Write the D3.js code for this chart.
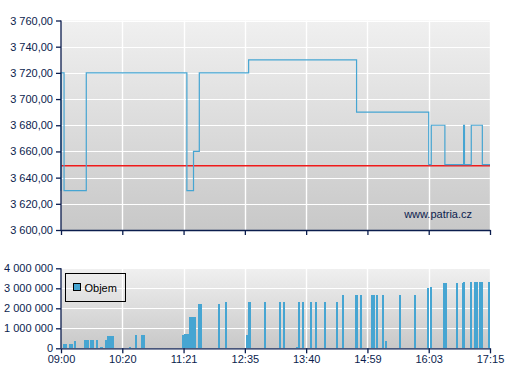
<!DOCTYPE html>
<html lang="cs">
<head>
<meta charset="UTF-8">
<title>Patria - průběh obchodování</title>
<script src="https://d3js.org/d3.v7.min.js"></script>
<style>
  body { margin: 0; background: #fff; }
  svg { display: block; font-family: "Liberation Sans", Arial, sans-serif; font-size: 11px; }
  .lbl { fill: #0b1d4e; }
</style>
</head>
<body>
<div id="chart"></div>
<script>
// x axis labels (they sit at equal spacing, so time is mapped piecewise)
const tickLabels = ["09:00", "10:20", "11:21", "12:35", "13:40", "14:59", "16:03", "17:15"];
const priceTicks = [3600, 3620, 3640, 3660, 3680, 3700, 3720, 3740, 3760];
const volumeTicks = [0, 1000000, 2000000, 3000000, 4000000];

// previous close (red line)
const prevClose = 3650;

// price steps
const priceTimes = ["09:00", "09:00", "09:04", "09:33", "11:25", "11:33", "11:40", "12:39",
  "14:45", "16:03", "16:06", "16:22", "16:44", "16:45", "16:53", "17:06", "17:15"];
const priceValues = [3630, 3720, 3630, 3720, 3630, 3660, 3720, 3730,
  3690, 3650, 3680, 3650, 3680, 3650, 3680, 3650, 3650];

// volume bars
const volTimes = ["09:04", "09:07", "09:12", "09:14", "09:18", "09:31", "09:34", "09:35", "09:39", "09:42",
  "09:47", "09:52", "09:53", "09:59", "10:01", "10:04", "10:07", "10:08", "10:28", "10:34",
  "10:40", "10:42", "11:20", "11:23", "11:25", "11:26", "11:29", "11:31", "11:34", "11:35",
  "11:40", "11:42", "12:04", "12:12", "12:37", "12:39", "12:40", "12:56", "13:12", "13:17",
  "13:30", "13:32", "13:37", "13:46", "13:53", "14:04", "14:20", "14:28", "14:44", "14:46",
  "14:51", "15:04", "15:06", "15:09", "15:15", "15:18", "15:33", "15:49", "16:02", "16:06",
  "16:21", "16:23", "16:36", "16:43", "16:45", "16:53", "16:57", "17:00", "17:03", "17:06", "17:14"];
const volValues = [215000, 215000, 215000, 215000, 365000, 415000, 415000, 415000, 415000, 415000,
  415000, 65000, 65000, 415000, 615000, 615000, 615000, 615000, 65000, 665000,
  665000, 665000, 665000, 715000, 715000, 715000, 1565000, 1565000, 1565000, 1565000,
  2215000, 2215000, 2215000, 2315000, 665000, 2315000, 2315000, 2315000, 2315000, 2315000,
  50000, 2315000, 2315000, 2315000, 2315000, 2315000, 2315000, 2665000, 2665000, 2665000,
  2665000, 2665000, 2665000, 2665000, 2665000, 365000, 2665000, 2665000, 3015000, 3065000,
  3265000, 3265000, 3265000, 3265000, 3315000, 3315000, 3315000, 3315000, 3315000, 3315000, 3315000];

const blue = "#46a5d2", red = "#f01a1a", navy = "#0b1d4e";
const W = 507, H = 380;
const left = 61, right = 490;
const top1 = 20.5, bot1 = 230;
const top2 = 268.3, bot2 = 348.3;

const toMin = s => { const p = s.split(":"); return +p[0] * 60 + +p[1]; };

const x = d3.scaleLinear()
  .domain(tickLabels.map(toMin))
  .range(tickLabels.map((d, i) => left + i * (right - left) / (tickLabels.length - 1)));

const yP = d3.scaleLinear().domain([3600, 3760]).range([bot1, top1]);
const yV = d3.scaleLinear().domain([0, 4000000]).range([bot2, top2]);

const loc = d3.formatLocale({ decimal: ",", thousands: " ", grouping: [3], currency: ["", ""] });
const fmtP = loc.format(",.2f");
const fmtV = loc.format(",d");

const svg = d3.select("#chart").append("svg").attr("width", W).attr("height", H);

const grad = svg.append("defs").append("linearGradient")
  .attr("id", "bg").attr("x1", 0).attr("y1", 0).attr("x2", 0).attr("y2", 1);
grad.append("stop").attr("offset", 0).attr("stop-color", "#f0f0f0");
grad.append("stop").attr("offset", 1).attr("stop-color", "#c8c8c8");

function panel(y, ticks, t, b) {
  const g = svg.append("g");
  g.append("rect").attr("x", left).attr("y", t).attr("width", right - left).attr("height", b - t)
    .attr("fill", "url(#bg)");
  // grid
  g.selectAll(".hg").data(ticks).enter().append("line")
    .attr("x1", left).attr("x2", right)
    .attr("y1", d => Math.round(y(d)) + 0.5).attr("y2", d => Math.round(y(d)) + 0.5)
    .attr("stroke", "#fff");
  g.selectAll(".vg").data(tickLabels.slice(1)).enter().append("line")
    .attr("x1", d => Math.round(x(toMin(d))) + 0.5).attr("x2", d => Math.round(x(toMin(d))) + 0.5)
    .attr("y1", t).attr("y2", b)
    .attr("stroke", "#fff").attr("stroke-width", 1.4);
  return g;
}

function axes(y, ticks, fmt, t, b, showLabels) {
  const g = svg.append("g");
  const ya = g.append("g").attr("transform", `translate(${left},0)`)
    .call(d3.axisLeft(y).tickValues(ticks).tickFormat(fmt).tickSize(5).tickPadding(3).tickSizeOuter(0));
  g.append("g").attr("transform", `translate(0,${b})`)
    .call(d3.axisBottom(x).tickValues(tickLabels.map(toMin))
      .tickFormat((d, i) => showLabels ? tickLabels[i] : "").tickSize(5).tickPadding(2).tickSizeOuter(0));
  g.selectAll(".domain, .tick line").attr("stroke", navy).attr("stroke-width", 1.3);
  g.selectAll(".tick text").attr("fill", navy).attr("font-size", 11)
    .attr("font-family", "'Liberation Sans', Arial, sans-serif");
  ya.select(".domain").attr("d", `M0,${t}V${b}`);
  return g;
}

// price panel
panel(yP, priceTicks, top1, bot1);
svg.append("text").attr("x", 472).attr("y", 218).attr("text-anchor", "end")
  .attr("class", "lbl").text("www.patria.cz");

// previous close
svg.append("rect")
  .attr("x", x(toMin(tickLabels[0])))
  .attr("width", x(toMin(tickLabels[tickLabels.length - 1])) - x(toMin(tickLabels[0])))
  .attr("y", Math.round(yP(prevClose)))
  .attr("height", 1.5)
  .attr("fill", red);

const pts = priceTimes.map((t, i) => [x(toMin(t)), yP(priceValues[i])]);
svg.append("path")
  .attr("d", d3.line().curve(d3.curveStepAfter)(pts))
  .attr("fill", "none").attr("stroke", blue).attr("stroke-width", 1.2);

axes(yP, priceTicks, fmtP, top1, bot1, false);

// volume panel
panel(yV, volumeTicks, top2, bot2);
svg.append("g").selectAll("rect").data(volTimes).enter().append("rect")
  .attr("x", d => x(toMin(d)) - 1)
  .attr("width", 2)
  .attr("y", (d, i) => yV(volValues[i]))
  .attr("height", (d, i) => yV(0) - yV(volValues[i]))
  .attr("fill", blue).attr("shape-rendering", "crispEdges");

axes(yV, volumeTicks, fmtV, top2, bot2, true);

// legend
const lg = svg.append("g").attr("transform", "translate(65.5,273.5)");
lg.append("rect").attr("width", 60).attr("height", 28).attr("fill", "none").attr("stroke", "#000");
lg.append("rect").attr("x", 8).attr("y", 10).attr("width", 7).attr("height", 7)
  .attr("fill", blue).attr("stroke", "#000");
lg.append("text").attr("x", 19).attr("y", 18.3).attr("fill", "#000").text("Objem");
</script>
</body>
</html>
